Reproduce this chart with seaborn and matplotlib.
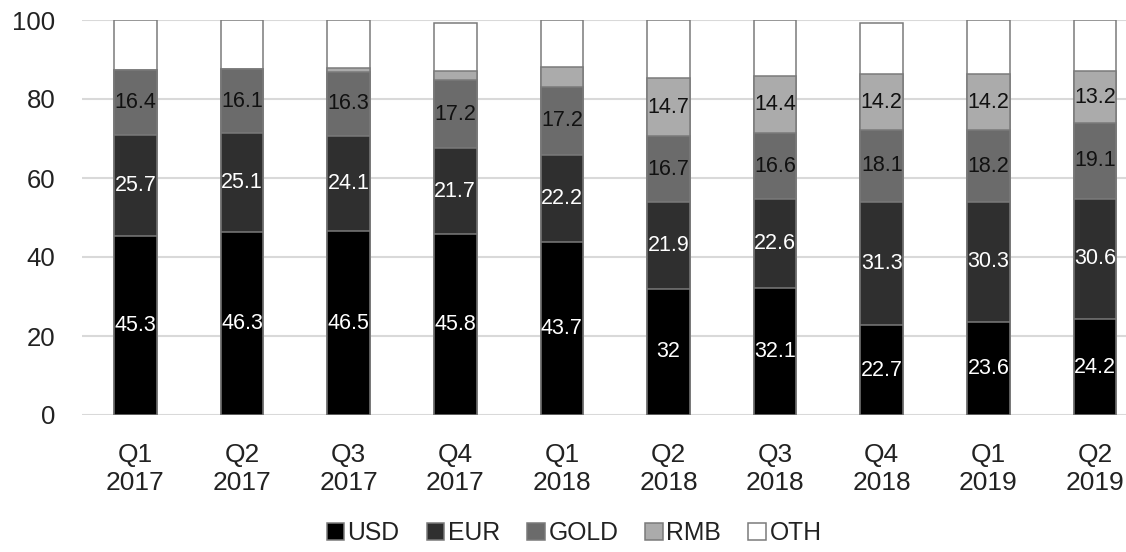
import numpy as np
import pandas as pd
import matplotlib
matplotlib.use("Agg")
import matplotlib.pyplot as plt
from matplotlib.patches import Patch
import seaborn as sns

quarters = ["Q1\n2017", "Q2\n2017", "Q3\n2017", "Q4\n2017", "Q1\n2018",
            "Q2\n2018", "Q3\n2018", "Q4\n2018", "Q1\n2019", "Q2\n2019"]
usd = [45.3, 46.3, 46.5, 45.8, 43.7, 32.0, 32.1, 22.7, 23.6, 24.2]
eur = [25.7, 25.1, 24.1, 21.7, 22.2, 21.9, 22.6, 31.3, 30.3, 30.6]
gold = [16.4, 16.1, 16.3, 17.2, 17.2, 16.7, 16.6, 18.1, 18.2, 19.1]
rmb = [0.0, 0.0, 1.0, 2.3, 5.0, 14.7, 14.4, 14.2, 14.2, 13.2]
oth = [12.6, 12.5, 12.1, 12.3, 11.9, 14.7, 14.3, 13.0, 13.7, 12.9]
rmb_labels = ["", "", "", "", "", "14.7", "14.4", "14.2", "14.2", "13.2"]

series_names = ["USD", "EUR", "GOLD", "RMB", "OTH"]
series_vals = [usd, eur, gold, rmb, oth]
colors = ["#000000", "#2f2f2f", "#6b6b6b", "#ababab", "#ffffff"]
label_colors = ["white", "white", "#111111", "#111111", None]

sns.set_theme(style="white")
plt.rcParams["font.family"] = ["Liberation Sans", "DejaVu Sans"]

fig = plt.figure(figsize=(11.26, 5.52), dpi=100)
ax = fig.add_axes([82 / 1126, 137 / 552, (1127 - 82) / 1126, 395 / 552])

vals = np.array(series_vals)
cum = np.cumsum(vals, axis=0)

# draw cumulative totals from top series down so each overlays the previous
for i in range(len(series_names) - 1, -1, -1):
    df = pd.DataFrame({"quarter": quarters, "cum": cum[i]})
    sns.barplot(data=df, x="quarter", y="cum", color=colors[i], saturation=1,
                width=0.4, edgecolor="#7a7a7a", linewidth=1.1, ax=ax, zorder=3)

# data labels
for i, name in enumerate(series_names):
    if label_colors[i] is None:
        continue
    for j in range(len(quarters)):
        v = vals[i][j]
        if name == "RMB":
            txt = rmb_labels[j]
        else:
            txt = f"{v:g}"
        if not txt:
            continue
        ax.text(j, cum[i][j] - v / 2, txt, ha="center", va="center",
                fontsize=15.5, color=label_colors[i], zorder=5)

ax.set_xlim(-0.5, 9.3)
ax.set_ylim(0, 100)
ax.set_yticks([0, 20, 40, 60, 80, 100])
ax.yaxis.grid(True, color="#d9d9d9", linewidth=1.5, zorder=0)
ax.set_axisbelow(True)
for s in ax.spines.values():
    s.set_visible(False)
ax.set_xlabel("")
ax.set_ylabel("")
ax.tick_params(axis="y", length=0, pad=19, labelsize=18.5, labelcolor="#222222")
ax.tick_params(axis="x", length=0, pad=20, labelsize=19, labelcolor="#222222")

handles = [Patch(facecolor=c, edgecolor="#7a7a7a", linewidth=1.1) for c in colors]
fig.legend(handles, series_names, loc="center", bbox_to_anchor=(574 / 1126, 19 / 552),
           ncol=5, frameon=False, fontsize=17.8, handlelength=0.7, handleheight=0.7,
           handletextpad=0.15, columnspacing=1.1, labelcolor="#222222")

fig.savefig("out.png", dpi=100)
